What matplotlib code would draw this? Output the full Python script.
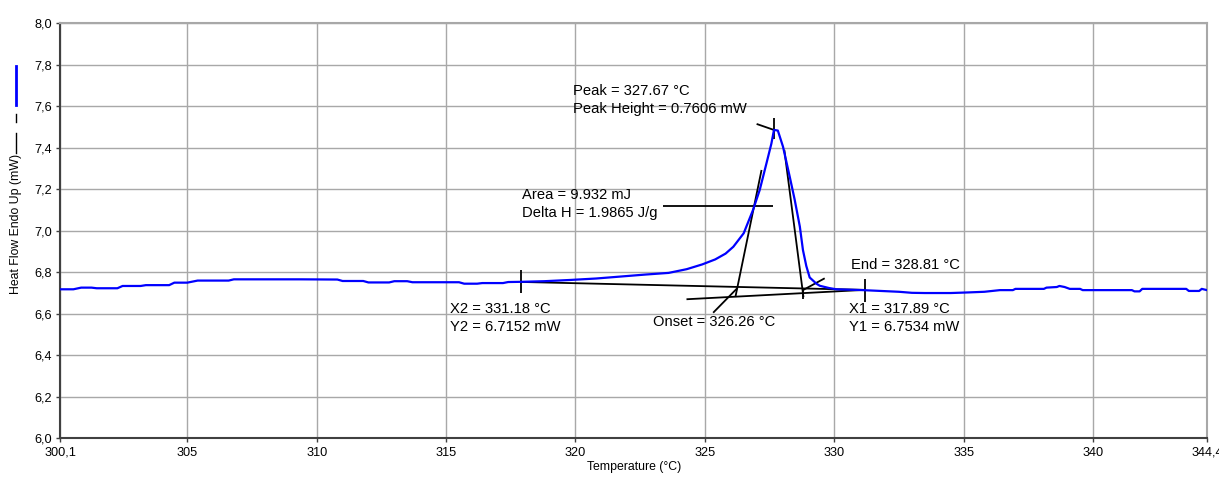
import matplotlib
matplotlib.use("Agg")
import matplotlib.pyplot as plt
from matplotlib.lines import Line2D

plt.rcParams['font.family'] = ['Liberation Sans', 'DejaVu Sans']

# DSC heat-flow trace (temperature in °C, heat flow in mW)
temperature = [300.1, 300.6, 300.9, 301.3, 301.5, 302.3, 302.5, 303.2, 303.4, 304.3,
               304.5, 305.0, 305.4, 306.6, 306.8, 309.4, 310.8, 311.0, 311.8, 312.0,
               312.8, 313.0, 313.5, 313.7, 315.5, 315.7, 316.2, 316.4, 317.2, 317.4,
               317.9, 318.8, 319.8, 320.8, 321.7, 322.7, 323.6, 324.3, 324.9, 325.4,
               325.8, 326.1, 326.5, 326.86, 327.12, 327.38, 327.57, 327.67, 327.82, 328.02,
               328.28, 328.47, 328.67, 328.79, 328.92, 329.05, 329.31, 329.44, 329.8, 330.08,
               330.6, 331.1, 331.8, 332.5, 333.0, 333.5, 334.5, 335.2, 335.8, 336.4,
               336.9, 337.0, 338.1, 338.2, 338.6, 338.7, 338.9, 339.1, 339.5, 339.6,
               341.5, 341.6, 341.8, 341.9, 343.6, 343.7, 344.1, 344.2, 344.4]
heat_flow = [6.718, 6.718, 6.726, 6.726, 6.723, 6.723, 6.734, 6.734, 6.738, 6.738,
             6.750, 6.750, 6.760, 6.760, 6.766, 6.766, 6.765, 6.758, 6.758, 6.751,
             6.751, 6.757, 6.757, 6.752, 6.752, 6.745, 6.745, 6.748, 6.748, 6.753,
             6.754, 6.757, 6.763, 6.770, 6.779, 6.789, 6.797, 6.815, 6.838, 6.862,
             6.890, 6.923, 6.988, 7.100, 7.197, 7.325, 7.420, 7.486, 7.483, 7.405,
             7.260, 7.150, 7.020, 6.907, 6.830, 6.775, 6.745, 6.735, 6.724, 6.718,
             6.716, 6.714, 6.710, 6.706, 6.701, 6.700, 6.700, 6.703, 6.706, 6.714,
             6.714, 6.720, 6.720, 6.726, 6.729, 6.734, 6.729, 6.720, 6.720, 6.714,
             6.714, 6.708, 6.708, 6.720, 6.720, 6.710, 6.710, 6.720, 6.714]

# Peak analysis results
x1, y1 = 317.89, 6.7534
x2, y2 = 331.18, 6.7152
peak_temp = 327.67
peak_height = 0.7606
onset_temp = 326.26
end_temp = 328.81
area_mj = 9.932
delta_h = 1.9865

x_ticks = [300.1, 305, 310, 315, 320, 325, 330, 335, 340, 344.4]
x_tick_labels = ["300,1", "305", "310", "315", "320", "325", "330", "335", "340", "344,4"]
y_ticks = [6.0, 6.2, 6.4, 6.6, 6.8, 7.0, 7.2, 7.4, 7.6, 7.8, 8.0]
y_tick_labels = ["6,0", "6,2", "6,4", "6,6", "6,8", "7,0", "7,2", "7,4", "7,6", "7,8", "8,0"]


def baseline(t):
    return y1 + (t - x1) * (y2 - y1) / (x2 - x1)


fig = plt.figure(figsize=(12.19, 4.78), dpi=100)
ax = fig.add_axes([0.0496, 0.0831, 0.9405, 0.8682])

ax.set_xlim(300.1, 344.4)
ax.set_ylim(6.0, 8.0)
ax.set_xticks(x_ticks)
ax.set_xticklabels(x_tick_labels)
ax.set_yticks(y_ticks)
ax.set_yticklabels(y_tick_labels)
ax.tick_params(axis='both', direction='out', length=3, width=1, colors='#404040',
               labelsize=9.2, labelcolor='black', pad=3)
ax.grid(True, color='#a8a8a8', linewidth=1.0)
ax.set_axisbelow(True)
for side in ('top', 'right'):
    ax.spines[side].set_color('#a8a8a8')
    ax.spines[side].set_linewidth(1.5)
for side in ('left', 'bottom'):
    ax.spines[side].set_color('#404040')
    ax.spines[side].set_linewidth(1.5)

ax.set_xlabel("Temperature (°C)", fontsize=8.8, labelpad=2)

blk = dict(color='black', linewidth=1.3, solid_capstyle='butt')

# Baseline between the two limit points and its end ticks
ax.plot([x1, x2], [y1, y2], **blk)
ax.plot([x1, x1], [6.700, 6.811], **blk)
ax.plot([x2, x2], [6.658, 6.768], **blk)
# Extrapolated lower baseline
ax.plot([324.29, x2], [6.670, y2], **blk)

# Leading-edge tangent through the onset point
onset_y = baseline(onset_temp)
ax.plot([326.18, 327.19], [6.681, 7.293], **blk)
ax.plot([325.32, onset_temp], [6.605, onset_y - 0.005], **blk)

# Trailing-edge tangent and end marker
ax.plot([328.07, end_temp], [7.39, 6.680], **blk)
ax.plot([end_temp, end_temp], [6.670, 6.723], **blk)
ax.plot([328.79, 329.63], [6.714, 6.771], **blk)

# Peak marker
peak_y = baseline(peak_temp) + peak_height
ax.plot([327.0, peak_temp], [peak_y + 0.029, peak_y], **blk)
ax.plot([peak_temp, peak_temp], [peak_y - 0.045, peak_y + 0.058], **blk)

# Area line
ax.plot([323.39, 327.64], [7.121, 7.121], **blk)

# Heat-flow curve
ax.plot(temperature, heat_flow, color='#0000ff', linewidth=1.6, zorder=5)

txt = dict(fontsize=10.6, va='top', ha='left', color='black', linespacing=1.35, zorder=6)
ax.text(319.90, 7.705, f"Peak = {peak_temp:.2f} °C\nPeak Height = {peak_height:.4f} mW", **txt)
ax.text(317.92, 7.205, f"Area = {area_mj:.3f} mJ\nDelta H = {delta_h:.4f} J/g", **txt)
ax.text(315.15, 6.655, f"X2 = {x2:.2f} °C\nY2 = {y2:.4f} mW", **txt)
ax.text(322.98, 6.593, f"Onset = {onset_temp:.2f} °C", **txt)
ax.text(330.66, 6.867, f"End = {end_temp:.2f} °C", **txt)
ax.text(330.56, 6.655, f"X1 = {x1:.2f} °C\nY1 = {y1:.4f} mW", **txt)

# Rotated axis title with its line-style key
fig.text(16 / 1219, 1 - 224 / 478, "Heat Flow Endo Up (mW)", rotation=90,
         ha='center', va='center', fontsize=8.8)
xk = 16 / 1219
fig.add_artist(Line2D([xk, xk], [1 - 153 / 478, 1 - 133 / 478], color='black', linewidth=1.0))
fig.add_artist(Line2D([xk, xk], [1 - 122 / 478, 1 - 114 / 478], color='black', linewidth=1.0))
fig.add_artist(Line2D([xk, xk], [1 - 105 / 478, 1 - 66 / 478], color='#0000ff', linewidth=2.0))

fig.savefig("out.png", dpi=100, facecolor='white')
